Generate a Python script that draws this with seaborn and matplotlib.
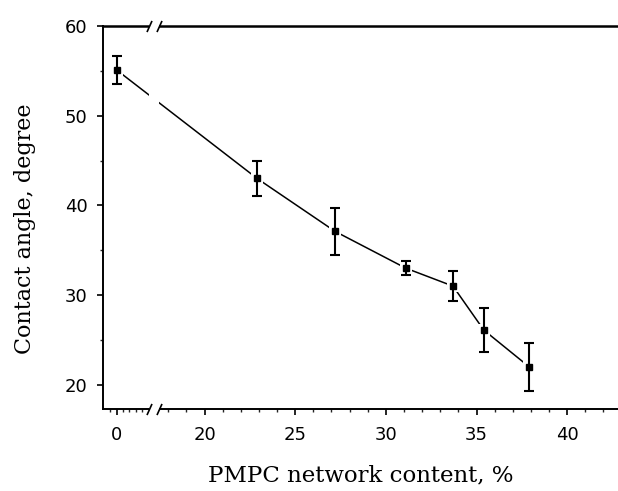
import numpy as np
import pandas as pd
import matplotlib
matplotlib.use("Agg")
import matplotlib.pyplot as plt
from matplotlib.patches import Rectangle
import seaborn as sns

# dados
conteudo_pmpc = [0, 22.9, 27.2, 31.1, 33.7, 35.4, 37.9]
angulo_contato = [55.1, 43.0, 37.1, 33.0, 31.0, 26.1, 22.0]
erro_angulo = [1.6, 2.0, 2.6, 0.8, 1.7, 2.5, 2.7]

df = pd.DataFrame({"PMPC": conteudo_pmpc, "Angulo": angulo_contato, "Erro": erro_angulo})

# quebra do eixo x (entre ~1.8 e ~17.5), comprimida numa faixa estreita
quebra_ini, quebra_fim, largura_quebra = 1.8, 17.5, 0.55


def avanca(x):
    x = np.asarray(x, dtype=float)
    meio = quebra_ini + (x - quebra_ini) * largura_quebra / (quebra_fim - quebra_ini)
    return np.where(x <= quebra_ini, x,
                    np.where(x >= quebra_fim, x - (quebra_fim - quebra_ini) + largura_quebra, meio))


def volta(y):
    y = np.asarray(y, dtype=float)
    fim = quebra_ini + largura_quebra
    meio = quebra_ini + (y - quebra_ini) * (quebra_fim - quebra_ini) / largura_quebra
    return np.where(y <= quebra_ini, y,
                    np.where(y >= fim, y + (quebra_fim - quebra_ini) - largura_quebra, meio))


sns.set_style("ticks")
plt.rcParams["font.family"] = ["DejaVu Sans"]

fig = plt.figure(figsize=(6.18, 4.91), dpi=100)
ax = fig.add_axes([103 / 618, 1 - 409 / 491, 515 / 618, 383 / 491])
ax.set_xscale("function", functions=(avanca, volta))

# linha
sns.lineplot(data=df, x="PMPC", y="Angulo", color="black", linewidth=1.1, ax=ax, zorder=2)

# halo branco em volta dos pontos (linha interrompida perto do marcador)
ax.scatter(df["PMPC"], df["Angulo"], marker="s", s=80, color="white", zorder=3, linewidths=0)

# barras de erro e marcadores
ax.errorbar(df["PMPC"], df["Angulo"], yerr=df["Erro"], fmt="s", color="black",
            markersize=5, elinewidth=1.5, capsize=3.5, capthick=1.5, zorder=4)

# faixa branca da quebra + traços //
ax.add_patch(Rectangle((quebra_ini, -0.02), quebra_fim - quebra_ini, 1.04,
                       transform=ax.get_xaxis_transform(), facecolor="white",
                       edgecolor="none", zorder=5, clip_on=False))
ax.plot([quebra_ini, quebra_fim, quebra_ini, quebra_fim], [0, 0, 1, 1],
        transform=ax.get_xaxis_transform(), marker=[(-0.45, -1), (0.45, 1)],
        markersize=8, linestyle="none", color="black", mec="black", mew=1.2,
        clip_on=False, zorder=6)

# eixos
ax.set_xlim(-0.75, 42.8)
ax.set_ylim(17.3, 60)
ax.set_xticks([0, 20, 25, 30, 35, 40])
minor_x = [-0.35, 0.35, 0.7, 1.05, 1.4] + [v for v in range(18, 43) if v % 5 != 0]
ax.set_xticks(minor_x, minor=True)
ax.set_yticks([20, 30, 40, 50, 60])
ax.set_yticks([25, 35, 45, 55], minor=True)

ax.tick_params(axis="both", which="major", direction="out", length=4, width=1.2,
               labelsize=13, colors="black")
ax.tick_params(axis="x", which="major", pad=8)
ax.tick_params(axis="y", which="major", pad=7)
ax.tick_params(axis="both", which="minor", direction="out", length=2.2, width=1.0)

for lado in ["left", "bottom"]:
    ax.spines[lado].set_linewidth(1.4)
    ax.spines[lado].set_color("black")
ax.spines["top"].set_linewidth(1.8)
ax.spines["top"].set_color("black")
ax.spines["right"].set_visible(False)

ax.set_xlabel("PMPC network content, %", fontsize=16.5, family="DejaVu Serif", color="black")
ax.set_ylabel("Contact angle, degree", fontsize=16, family="DejaVu Serif", color="black")
ax.xaxis.set_label_coords(0.5, -0.145)
ax.yaxis.set_label_coords(-0.13, 0.47)

plt.savefig("out.png", dpi=100)
